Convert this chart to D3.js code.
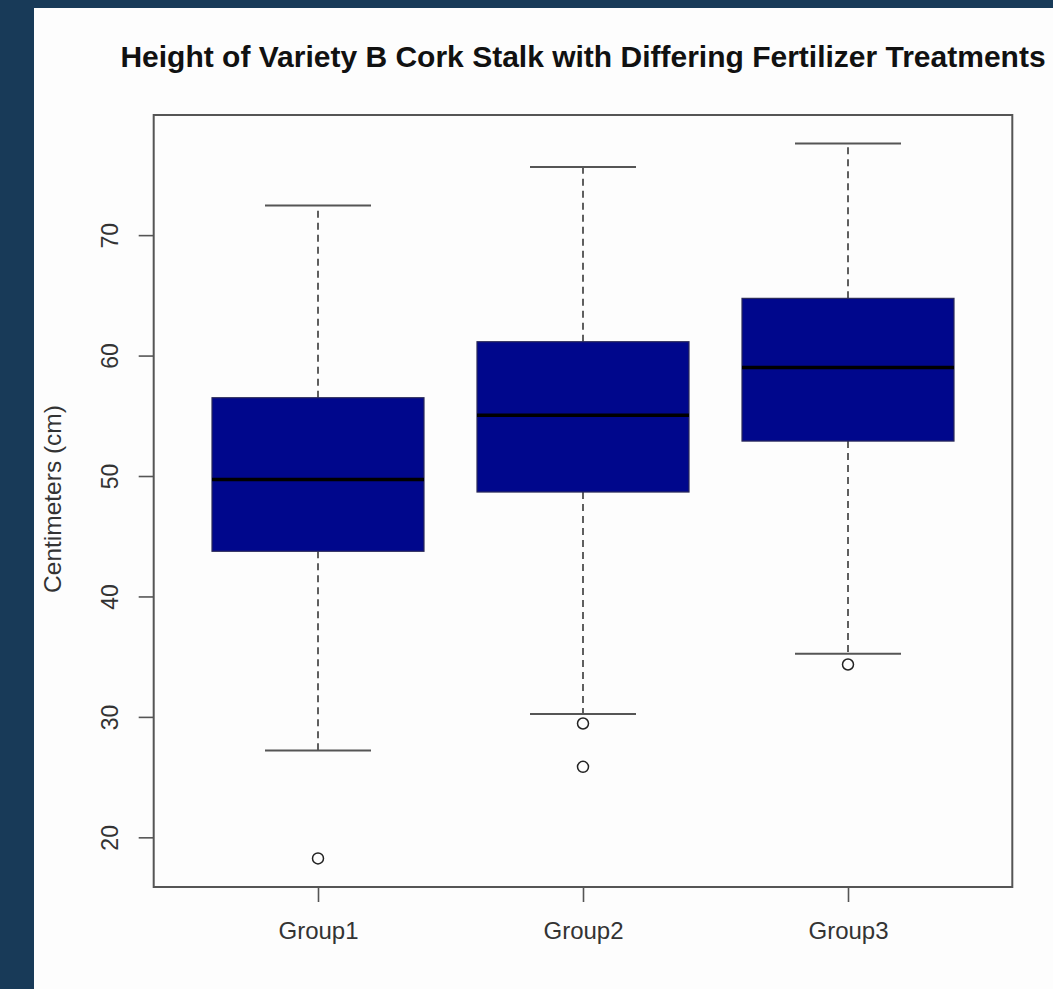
<!DOCTYPE html>
<html>
<head>
<meta charset="utf-8">
<script src="https://cdn.jsdelivr.net/npm/d3@7"></script>
<style>
  html, body { margin: 0; padding: 0; background: #183a58; }
  svg { display: block; }
</style>
</head>
<body>
<div id="chart"></div>
<script>
var groups = ["Group1", "Group2", "Group3"];
var lowerWhisker = [27.2, 30.25, 35.25];
var q1 = [43.75, 48.67, 52.9];
var median = [49.7, 55.05, 59.0];
var q3 = [56.5, 61.15, 64.75];
var upperWhisker = [72.45, 75.65, 77.6];
var outliers = [[18.25], [29.45, 25.85], [34.35]];
var yTicks = [20, 30, 40, 50, 60, 70];

var width = 1053;
var height = 989;
var plot = { left: 153.7, right: 1012.3, top: 115, bottom: 887 };
var font = "Liberation Sans, Arial, sans-serif";

var svg = d3
  .select("#chart")
  .append("svg")
  .attr("width", width)
  .attr("height", height);

// navy frame + white panel
svg.append("rect").attr("width", width).attr("height", height).attr("fill", "#183a58");
svg.append("rect")
  .attr("x", 34).attr("y", 8)
  .attr("width", width - 34).attr("height", height - 8)
  .attr("fill", "#fdfdfd");

// R style range: data extent padded by 4%
var allVals = lowerWhisker.concat(upperWhisker, d3.merge(outliers));
var lo = d3.min(allVals), hi = d3.max(allVals);
var pad = (hi - lo) * 0.04;

var y = d3.scaleLinear()
  .domain([lo - pad, hi + pad])
  .range([plot.bottom, plot.top]);

var x = d3.scaleLinear()
  .domain([0.38, groups.length + 0.62])
  .range([plot.left, plot.right]);

var unit = x(1) - x(0);
var boxW = unit * 0.8;
var capW = unit * 0.4;

var g = svg.append("g");

groups.forEach(function (name, i) {
  var cx = x(i + 1);
  var grp = g.append("g");

  // whiskers
  grp.append("line")
    .attr("x1", cx).attr("x2", cx)
    .attr("y1", y(q3[i])).attr("y2", y(upperWhisker[i]))
    .attr("stroke", "#444").attr("stroke-width", 1.7)
    .attr("stroke-dasharray", "7,5");
  grp.append("line")
    .attr("x1", cx).attr("x2", cx)
    .attr("y1", y(q1[i])).attr("y2", y(lowerWhisker[i]))
    .attr("stroke", "#444").attr("stroke-width", 1.7)
    .attr("stroke-dasharray", "7,5");

  // staples
  [upperWhisker[i], lowerWhisker[i]].forEach(function (v) {
    grp.append("line")
      .attr("x1", cx - capW / 2).attr("x2", cx + capW / 2)
      .attr("y1", y(v)).attr("y2", y(v))
      .attr("stroke", "#555").attr("stroke-width", 2);
  });

  // box
  grp.append("rect")
    .attr("x", cx - boxW / 2)
    .attr("y", y(q3[i]))
    .attr("width", boxW)
    .attr("height", y(q1[i]) - y(q3[i]))
    .attr("fill", "#00078c")
    .attr("stroke", "#2a2a5a")
    .attr("stroke-width", 1.2);

  // median
  grp.append("line")
    .attr("x1", cx - boxW / 2).attr("x2", cx + boxW / 2)
    .attr("y1", y(median[i])).attr("y2", y(median[i]))
    .attr("stroke", "#000").attr("stroke-width", 3.5);

  // outliers
  grp.selectAll("circle")
    .data(outliers[i])
    .enter()
    .append("circle")
    .attr("cx", cx)
    .attr("cy", function (d) { return y(d); })
    .attr("r", 5.5)
    .attr("fill", "none")
    .attr("stroke", "#222")
    .attr("stroke-width", 1.5);
});

// plot frame
svg.append("rect")
  .attr("x", plot.left).attr("y", plot.top)
  .attr("width", plot.right - plot.left)
  .attr("height", plot.bottom - plot.top)
  .attr("fill", "none")
  .attr("stroke", "#555")
  .attr("stroke-width", 2);

// y axis
var yAxis = svg.append("g")
  .attr("transform", "translate(" + plot.left + ",0)")
  .call(d3.axisLeft(y).tickValues(yTicks).tickSize(15).tickPadding(0).tickFormat(d3.format("d")));
yAxis.select(".domain").remove();
yAxis.selectAll(".tick line").attr("stroke", "#555").attr("stroke-width", 1.6);
yAxis.selectAll(".tick text")
  .attr("transform", "rotate(-90)")
  .attr("x", 0)
  .attr("y", -36)
  .attr("dy", "0")
  .attr("text-anchor", "middle")
  .attr("fill", "#333")
  .style("font-family", font)
  .style("font-size", "23px");

// x axis
var xAxis = svg.append("g")
  .attr("transform", "translate(0," + plot.bottom + ")")
  .call(d3.axisBottom(x)
    .tickValues(groups.map(function (d, i) { return i + 1; }))
    .tickSize(15)
    .tickPadding(20)
    .tickFormat(function (d) { return groups[d - 1]; }));
xAxis.select(".domain").remove();
xAxis.selectAll(".tick line").attr("stroke", "#555").attr("stroke-width", 1.6);
xAxis.selectAll(".tick text")
  .attr("fill", "#333")
  .style("font-family", font)
  .style("font-size", "24px");

// y label
svg.append("text")
  .attr("transform", "translate(61," + ((plot.top + plot.bottom) / 2 - 2) + ") rotate(-90)")
  .attr("text-anchor", "middle")
  .attr("fill", "#333")
  .style("font-family", font)
  .style("font-size", "24.5px")
  .text("Centimeters (cm)");

// title
svg.append("text")
  .attr("x", (plot.left + plot.right) / 2)
  .attr("y", 67)
  .attr("text-anchor", "middle")
  .attr("fill", "#111")
  .style("font-family", font)
  .style("font-weight", "bold")
  .style("font-size", "30px")
  .text("Height of Variety B Cork Stalk with Differing Fertilizer Treatments");
</script>
</body>
</html>
